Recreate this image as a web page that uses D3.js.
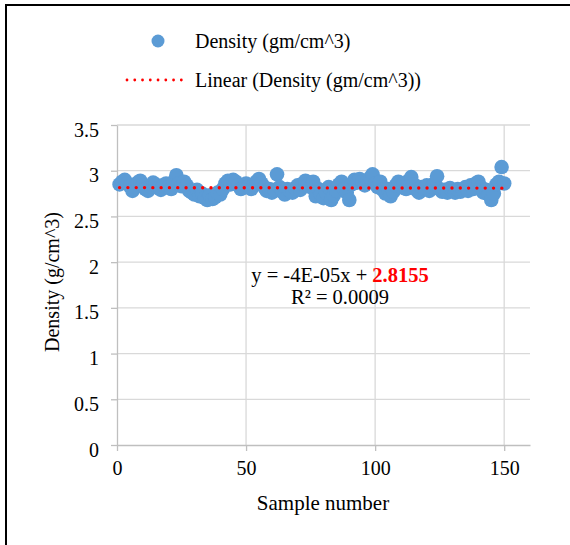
<!DOCTYPE html>
<html>
<head>
<meta charset="utf-8">
<script src="https://cdn.jsdelivr.net/npm/d3@7"></script>
<style>
body { margin: 0; background: #fff; }
svg { display: block; font-family: "Liberation Serif", "Times New Roman", serif; }
</style>
</head>
<body>
<svg id="chart" width="570" height="545"></svg>
<script>
// density readings, samples 1..150
var density = [
  2.85, 2.88, 2.90, 2.86, 2.83, 2.78, 2.82, 2.87, 2.89, 2.84,
  2.80, 2.78, 2.83, 2.87, 2.85, 2.81, 2.79, 2.84, 2.86, 2.82,
  2.80, 2.88, 2.95, 2.86, 2.83, 2.88, 2.84, 2.78, 2.76, 2.74,
  2.79, 2.72, 2.75, 2.70, 2.68, 2.73, 2.69, 2.71, 2.76, 2.74,
  2.80, 2.86, 2.89, 2.85, 2.90, 2.88, 2.84, 2.80, 2.82, 2.86,
  2.83, 2.80, 2.85, 2.88, 2.91, 2.86, 2.82, 2.78, 2.80, 2.76,
  2.79, 2.96, 2.82, 2.77, 2.74, 2.80, 2.78, 2.76, 2.81, 2.84,
  2.79, 2.86, 2.89, 2.85, 2.82, 2.88, 2.72, 2.80, 2.74, 2.70,
  2.76, 2.82, 2.68, 2.73, 2.78, 2.85, 2.88, 2.80, 2.76, 2.68,
  2.85, 2.90, 2.87, 2.91, 2.88, 2.84, 2.89, 2.92, 2.96, 2.86,
  2.82, 2.88, 2.79, 2.75, 2.80, 2.72, 2.77, 2.84, 2.88, 2.82,
  2.86, 2.80, 2.89, 2.93, 2.85, 2.79, 2.76, 2.82, 2.80, 2.84,
  2.78, 2.82, 2.86, 2.94, 2.80, 2.77, 2.79, 2.76, 2.81, 2.78,
  2.76, 2.80, 2.77, 2.79, 2.82, 2.78, 2.84, 2.80, 2.86, 2.88,
  2.82, 2.76, 2.79, 2.74, 2.68, 2.75, 2.85, 2.88, 3.04, 2.86
];
var xTicks = [0, 50, 100, 150];
var yTicks = [0, 0.5, 1, 1.5, 2, 2.5, 3, 3.5];
var slope = -0.00004, intercept = 2.8155;

var svg = d3.select("#chart");
var serif = "'Liberation Serif', 'Times New Roman', serif";

// frame (only left and top edges show)
svg.append("rect").attr("x", 6).attr("y", 5).attr("width", 600).attr("height", 600)
  .attr("fill", "none").attr("stroke", "#000").attr("stroke-width", 2);

var x = d3.scaleLinear().domain([0, 160]).range([117, 530]);
var y = d3.scaleLinear().domain([0, 3.5]).range([445, 125]);

// gridlines
svg.append("g").selectAll("line").data(yTicks.slice(1)).enter().append("line")
  .attr("x1", x(0)).attr("x2", x(160))
  .attr("y1", function(d) { return y(d); }).attr("y2", function(d) { return y(d); })
  .attr("stroke", "#d9d9d9").attr("stroke-width", 1.3);
svg.append("g").selectAll("line").data(xTicks.slice(1)).enter().append("line")
  .attr("y1", y(0)).attr("y2", y(3.5))
  .attr("x1", function(d) { return x(d); }).attr("x2", function(d) { return x(d); })
  .attr("stroke", "#d9d9d9").attr("stroke-width", 1.3);

// axes
var xAxis = svg.append("g").attr("transform", "translate(0," + y(0) + ")")
  .call(d3.axisBottom(x).tickValues(xTicks).tickSize(6).tickPadding(9).tickSizeOuter(0));
var yAxis = svg.append("g").attr("transform", "translate(" + x(0) + ",0)")
  .call(d3.axisLeft(y).tickValues(yTicks).tickSize(6).tickPadding(12).tickSizeOuter(0)
    .tickFormat(function(d) { return String(d); }));
[xAxis, yAxis].forEach(function(a) {
  a.attr("font-family", serif).attr("font-size", 20);
  a.select(".domain").attr("stroke", "#bfbfbf").attr("stroke-width", 1.3);
  a.selectAll(".tick line").attr("stroke", "#bfbfbf").attr("stroke-width", 1.3);
  a.selectAll(".tick text").attr("fill", "#000");
});
yAxis.selectAll(".tick text").attr("dy", "0.55em");
xAxis.selectAll(".tick text").attr("dy", "0.75em");

// points
svg.append("g").selectAll("circle").data(density).enter().append("circle")
  .attr("cx", function(d, i) { return x(i + 1); })
  .attr("cy", function(d) { return y(d); })
  .attr("r", 7.3)
  .attr("fill", "#5b9bd5");

// linear trendline
svg.append("line")
  .attr("x1", x(1)).attr("y1", y(intercept + slope * 1))
  .attr("x2", x(150)).attr("y2", y(intercept + slope * 150))
  .attr("stroke", "#ff0000").attr("stroke-width", 3.4)
  .attr("stroke-linecap", "round").attr("stroke-dasharray", "0.01 8.3");

// equation
var eq = svg.append("text").attr("x", 340).attr("y", 282).attr("text-anchor", "middle")
  .style("font-size", "20.5px");
eq.append("tspan").text("y = -4E-05x + ");
eq.append("tspan").attr("fill", "#ff0000").attr("font-weight", "bold").text("2.8155");
svg.append("text").attr("x", 340).attr("y", 304).attr("text-anchor", "middle")
  .style("font-size", "20.5px").text("R² = 0.0009");

// axis titles
svg.append("text").attr("x", 323).attr("y", 510).attr("text-anchor", "middle")
  .style("font-size", "21px").text("Sample number");
svg.append("text").attr("transform", "translate(59,282) rotate(-90)").attr("text-anchor", "middle")
  .style("font-size", "20px").text("Density (g/cm^3)");

// legend
svg.append("circle").attr("cx", 158).attr("cy", 41).attr("r", 6.5).attr("fill", "#5b9bd5");
svg.append("text").attr("x", 195).attr("y", 48).style("font-size", "20px").text("Density (gm/cm^3)");
svg.append("line").attr("x1", 127).attr("x2", 189).attr("y1", 80).attr("y2", 80)
  .attr("stroke", "#ff0000").attr("stroke-width", 2.8)
  .attr("stroke-linecap", "round").attr("stroke-dasharray", "0.01 7.75");
svg.append("text").attr("x", 195).attr("y", 87).style("font-size", "20px").text("Linear (Density (gm/cm^3))");
</script>
</body>
</html>
